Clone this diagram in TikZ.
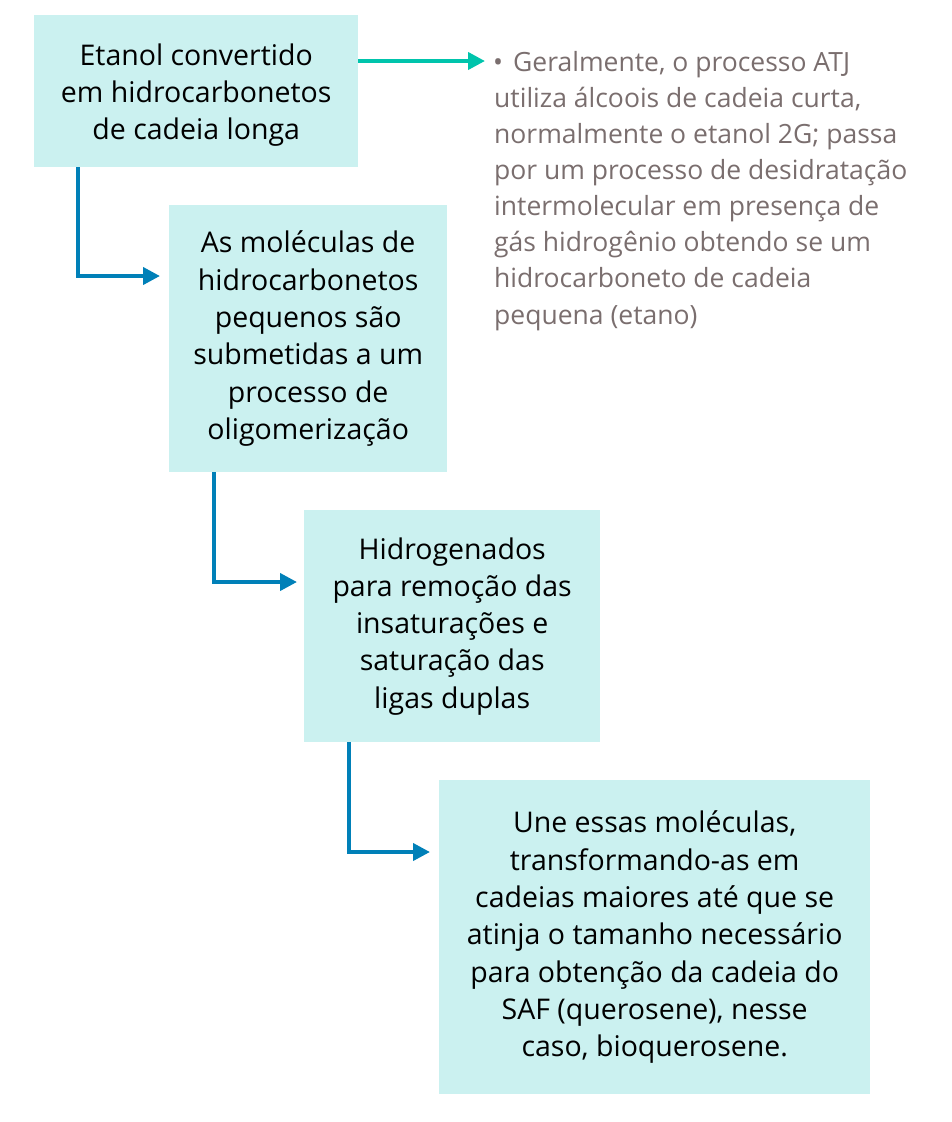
\documentclass[tikz,border=0pt]{standalone}
\usepackage{fontspec}
\setmainfont{Open Sans}
\usetikzlibrary{arrows.meta}
\definecolor{boxfill}{HTML}{CBF1F0}
\definecolor{bluearr}{HTML}{0080B8}
\definecolor{tealarr}{HTML}{00C4AC}
\definecolor{notegray}{HTML}{7A6E6E}
\tikzset{
  stepbox/.style={fill=boxfill, draw=none, anchor=north west, align=center, inner sep=0pt,
    font=\fontsize{28.5}{37.3}\selectfont, text=black},
  bluearrow/.style={draw=bluearr, line width=4pt, -{Triangle[length=17pt,width=17pt]}},
  tealarrow/.style={draw=tealarr, line width=4pt, -{Triangle[length=17pt,width=17pt]}},
}
\begin{document}
\begin{tikzpicture}[x=1pt,y=-1pt]
\useasboundingbox (0,0) rectangle (952,1122);
\node[stepbox, minimum width=324pt, minimum height=152pt] (b1) at (34,15)
  {\raisebox{-4pt}[\height][\depth]{\begin{tabular}{@{}c@{}}Etanol convertido\\em hidrocarbonetos\\de cadeia longa\end{tabular}}};
\node[stepbox, minimum width=278pt, minimum height=267pt] (b2) at (169,205)
  {As moléculas de\\hidrocarbonetos\\pequenos são\\submetidas a um\\processo de\\oligomerização};
\node[stepbox, minimum width=296pt, minimum height=232pt] (b3) at (304,510)
  {Hidrogenados\\para remoção das\\insaturações e\\saturação das\\ligas duplas};
\node[stepbox, minimum width=431pt, minimum height=314pt] (b4) at (439,780)
  {Une essas moléculas,\\transformando-as em\\cadeias maiores até que se\\atinja o tamanho necessário\\para obtenção da cadeia do\\SAF (querosene), nesse\\caso, bioquerosene.};
\node[anchor=north west, align=left, inner sep=0pt, text=notegray,
  font=\fontsize{26.5}{36.1}\selectfont] (note) at (494,51)
  {\hspace*{-1pt}•\hspace{10pt}Geralmente, o processo ATJ\\utiliza álcoois de cadeia curta,\\normalmente o etanol 2G; passa\\por um processo de desidratação\\intermolecular em presença de\\gás hidrogênio obtendo se um\\hidrocarboneto de cadeia\\pequena (etano)};
\draw[tealarrow] ([yshift=-46pt]b1.north east) coordinate (ts) -- ([xshift=-9pt]note.west |- ts);
\draw[bluearrow] ([xshift=44pt]b1.south west) |- ([xshift=-9pt,yshift=-71pt]b2.north west);
\draw[bluearrow] ([xshift=45pt]b2.south west) |- ([xshift=-7pt,yshift=-72pt]b3.north west);
\draw[bluearrow] ([xshift=45pt]b3.south west) |- ([xshift=-9pt,yshift=-72pt]b4.north west);
\end{tikzpicture}
\end{document}
